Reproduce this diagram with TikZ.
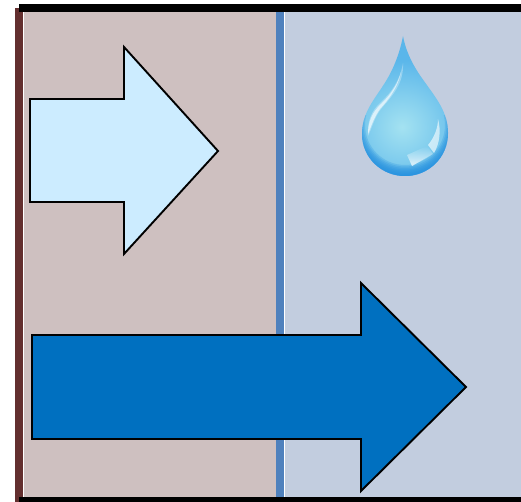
\documentclass[tikz,border=0pt]{standalone}
\usetikzlibrary{shadings,fadings}
\definecolor{wallbrown}{HTML}{632F2F}
\definecolor{pinkbg}{HTML}{CEC0C0}
\definecolor{bluebg}{HTML}{C2CDDF}
\definecolor{midblue}{HTML}{4F81BD}
\definecolor{palearrow}{HTML}{CCECFF}
\definecolor{deeparrow}{HTML}{0070C0}
\definecolor{dropinner}{HTML}{A4E2F1}
\definecolor{dropmid}{HTML}{5AB6EA}
\definecolor{dropouter}{HTML}{2490E0}
\pgfdeclareradialshading{dropshade}{\pgfpoint{0pt}{0pt}}{
  color(0bp)=(dropinner);
  color(7bp)=(dropinner!60!dropmid);
  color(17bp)=(dropmid);
  color(50bp)=(dropmid)}
\tikzset{
  flow/.style={draw=black,line width=1.9pt,line join=miter,miter limit=10},
}
\begin{document}
\begin{tikzpicture}[x=1pt,y=-1pt]
\useasboundingbox (0,0) rectangle (521,502);
\fill[white] (0,0) rectangle (521,502);
\fill[pinkbg] (24,12) rectangle (276,497);
\fill[bluebg] (285,12) rectangle (521,497);
\fill[midblue] (276,12) rectangle (284,497);
\fill[wallbrown] (15,8) rectangle (23,502);
\fill[black] (19,4) rectangle (521,12);
\fill[black] (19,497) rectangle (521,502);
% arrows
\draw[flow,fill=palearrow] (30,99) -- (124,99) -- (124,47) -- (218,151) -- (124,254) -- (124,202) -- (30,202) -- cycle;
\draw[flow,fill=deeparrow] (32,335) -- (361,335) -- (361,283) -- (466,387) -- (361,491) -- (361,439) -- (32,439) -- cycle;
% drop
\begin{scope}
\clip (403,36)
  .. controls (406,52) and (413,66) .. (424,81)
  .. controls (436,98) and (448,112) .. (448,133)
  .. controls (448,158) and (428,176) .. (405,176)
  .. controls (382,176) and (362,158) .. (362,134)
  .. controls (362,112) and (375,99) .. (386,81)
  .. controls (394,68) and (400,52) .. (403,36) -- cycle;
\shade[shading=dropshade] (402,127) circle[radius=100];
% darker rim, strongest along the bottom
\begin{scope}
\clip (340,116) rectangle (470,190);
\foreach \r in {40,41.5,...,51}
  \fill[dropouter,opacity=.25,even odd rule] (405,125) circle[radius=\r] (340,100) rectangle (470,190);
\end{scope}
% left highlight
\fill[white,opacity=.3] (403,63)
  .. controls (400,80) and (392,92) .. (381,102)
  .. controls (371,111) and (367,122) .. (368,136)
  .. controls (372,128) and (374,118) .. (381,109)
  .. controls (392,96) and (404,84) .. (403,63) -- cycle;
\fill[white,opacity=.6] (401,72)
  .. controls (398,84) and (391,94) .. (382,103)
  .. controls (372,112) and (368,122) .. (368,134)
  .. controls (371,127) and (374,117) .. (380,109)
  .. controls (388,100) and (398,88) .. (401,72) -- cycle;
% lower right glints
\fill[white,opacity=.8,path fading=north] (407,155) -- (427,146) -- (433,154) -- (412,166) -- cycle;
\fill[white,opacity=.6] (428,145) .. controls (434,138) and (438,128) .. (438,119)
  .. controls (441,130) and (440,143) .. (434,153) -- cycle;
\end{scope}
\end{tikzpicture}
\end{document}
